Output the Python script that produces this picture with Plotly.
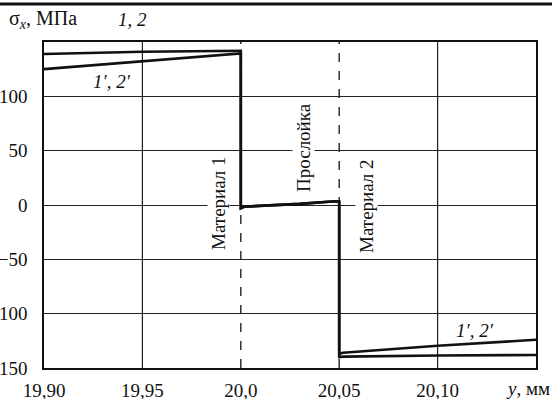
import plotly.graph_objects as go

# ---- data ----
x_main = [19.90, 19.95, 20.00, 20.00, 20.002, 20.03, 20.048, 20.05, 20.05, 20.052, 20.10, 20.15]
y_12 = [139, 141, 142, -3, -1.5, 1, 3.5, 3, -140, -139.5, -138.5, -138]
y_12p = [125, 132, 139.5, -3, -1.5, 1, 3.5, 3, -137, -136, -129.5, -124]

x_ticks = [19.90, 19.95, 20.00, 20.05, 20.10]
x_ticktext = ["19,90", "19,95", "20,0", "20,05", "20,10"]
y_ticks = [100, 50, 0, -50, -100, -150]
y_ticktext = ["100", "50", "0", "−50", "−100", "−150"]
grid_solid_x = [19.95, 20.10]
boundaries_x = [20.00, 20.05]

FONT = "Times New Roman"
W, H = 552, 399
L, R, T, B = 44, 16, 42, 31
PW, PH = W - L - R, H - T - B


def px(x):
    return (x - L) / PW


def py(y):
    return (H - B - y) / PH


fig = go.Figure()
fig.add_trace(go.Scatter(x=x_main, y=y_12p, mode="lines",
                         line=dict(color="#111", width=2.6), showlegend=False))
fig.add_trace(go.Scatter(x=x_main, y=y_12, mode="lines",
                         line=dict(color="#111", width=2.6), showlegend=False))

shapes = []
for gx in grid_solid_x:
    shapes.append(dict(type="line", xref="x", yref="y domain", x0=gx, x1=gx, y0=0, y1=1,
                       line=dict(color="#222", width=1.2), layer="below"))
for bx in boundaries_x:
    shapes.append(dict(type="line", xref="x", yref="y domain", x0=bx, x1=bx, y0=0, y1=1,
                       line=dict(color="#222", width=1.4, dash="dash"), layer="below"))
# top separator rule
shapes.append(dict(type="rect", xref="paper", yref="paper", x0=px(0), x1=px(W),
                   y0=py(5.5), y1=py(2.5), line=dict(width=0), fillcolor="#111",
                   layer="above"))

ann = []
def add_text(text, xp, yp, angle=0, bg=None, size=19, xanchor="center"):
    ann.append(dict(text=text, x=px(xp), y=py(yp), xref="paper", yref="paper",
                    showarrow=False, textangle=angle, xanchor=xanchor, yanchor="middle",
                    font=dict(family=FONT, size=size, color="#111"),
                    bgcolor=bg, borderpad=0))

add_text("σ<sub><i>x</i></sub>, МПа", 8, 20, xanchor="left", size=20)
add_text("<i>1, 2</i>", 132, 20)
add_text("<i>1′, 2′</i>", 112, 81)
add_text("<i>1′, 2′</i>", 475, 330)
add_text("Материал 1", 218, 203, angle=-90, bg="white")
add_text("Прослойка", 303, 148, angle=-90, bg="white")
add_text("Материал 2", 366, 206, angle=-90, bg="white")
add_text("<i>y</i>, мм", 528, 388)

tickfont = dict(family=FONT, size=19, color="#111")
fig.update_layout(
    width=W, height=H,
    margin=dict(l=L, r=R, t=T, b=B, pad=0),
    paper_bgcolor="white", plot_bgcolor="white",
    font=dict(family=FONT, size=19, color="#111"),
    shapes=shapes, annotations=ann,
    xaxis=dict(range=[19.90, 20.15], tickvals=x_ticks, ticktext=x_ticktext,
               tickfont=tickfont,
               showgrid=False, zeroline=False, showline=True, mirror=True,
               linecolor="#111", linewidth=1.5, ticks="", ticklabelstandoff=4,
               automargin=False),
    yaxis=dict(range=[-150, 150], tickvals=y_ticks, ticktext=y_ticktext,
               tickfont=tickfont,
               showgrid=True, gridcolor="#222", gridwidth=1.2, zeroline=False,
               showline=True, mirror=True, linecolor="#111", linewidth=1.5,
               ticks="", ticklabelstandoff=11, automargin=False),
)

fig.write_html("out.html", config={"displayModeBar": False},
               post_script="document.body.style.margin='0';")
